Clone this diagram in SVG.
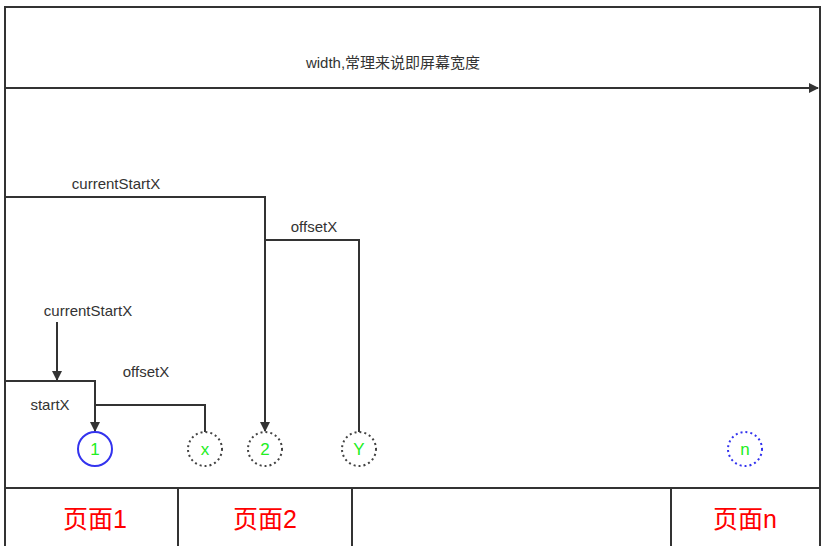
<svg xmlns="http://www.w3.org/2000/svg" width="821" height="546" viewBox="0 0 821 546">
<style>
.l{fill:none;stroke:#333;stroke-width:2}
.t{font-family:"Liberation Sans","Noto Sans CJK SC",sans-serif;font-size:15px;fill:#333;text-anchor:middle}
.c{font-family:"Liberation Sans",sans-serif;font-size:17px;fill:#22ee22;text-anchor:middle}
.p{font-family:"Liberation Sans","Noto Sans CJK SC",sans-serif;font-size:25px;fill:#ff0000;text-anchor:middle}
.d{fill:#fff;stroke:#444;stroke-width:2;stroke-dasharray:2 3}
</style>
<defs><marker id="a" markerWidth="10" markerHeight="10" refX="9" refY="5" orient="auto" markerUnits="userSpaceOnUse"><path d="M0,0L10,5L0,10Z" fill="#333"/></marker></defs>
<rect x="5" y="7" width="815" height="545" fill="#fff" stroke="#333" stroke-width="2"/>
<g id="pages">
<line class="l" x1="5" y1="488" x2="820" y2="488"/>
<line class="l" x1="178" y1="488" x2="178" y2="546"/>
<line class="l" x1="352" y1="488" x2="352" y2="546"/>
<line class="l" x1="671" y1="488" x2="671" y2="546"/>
<text class="p" x="95" y="528">页面1</text>
<text class="p" x="265" y="528">页面2</text>
<text class="p" x="745" y="528">页面n</text>
</g>
<g id="connectors">
<line class="l" x1="5" y1="88" x2="818" y2="88" marker-end="url(#a)"/>
<polyline class="l" points="5,197 265,197 265,431" marker-end="url(#a)"/>
<polyline class="l" points="265,240 359,240 359,432"/>
<line class="l" x1="57" y1="322" x2="57" y2="380" marker-end="url(#a)"/>
<polyline class="l" points="5,381 95,381 95,431" marker-end="url(#a)"/>
<polyline class="l" points="95,405 205,405 205,432"/>
</g>
<g id="labels">
<text class="t" x="393" y="68">width,常理来说即屏幕宽度</text>
<text class="t" x="116" y="189">currentStartX</text>
<text class="t" x="314" y="232">offsetX</text>
<text class="t" x="88" y="316">currentStartX</text>
<text class="t" x="146" y="377">offsetX</text>
<text class="t" x="50" y="410">startX</text>
</g>
<g id="n1"><circle cx="95" cy="449" r="17" fill="#fff" stroke="#3333ee" stroke-width="2"/><text class="c" x="95" y="455">1</text></g>
<g id="nx"><circle class="d" cx="205" cy="449" r="17"/><text class="c" x="205" y="455">x</text></g>
<g id="n2"><circle class="d" cx="265" cy="449" r="17"/><text class="c" x="265" y="455">2</text></g>
<g id="nY"><circle class="d" cx="359" cy="449" r="17"/><text class="c" x="359" y="455">Y</text></g>
<g id="nn"><circle cx="745" cy="449" r="17" fill="#fff" stroke="#3333ee" stroke-width="2" stroke-dasharray="2 3"/><text class="c" x="745" y="455">n</text></g>
</svg>
